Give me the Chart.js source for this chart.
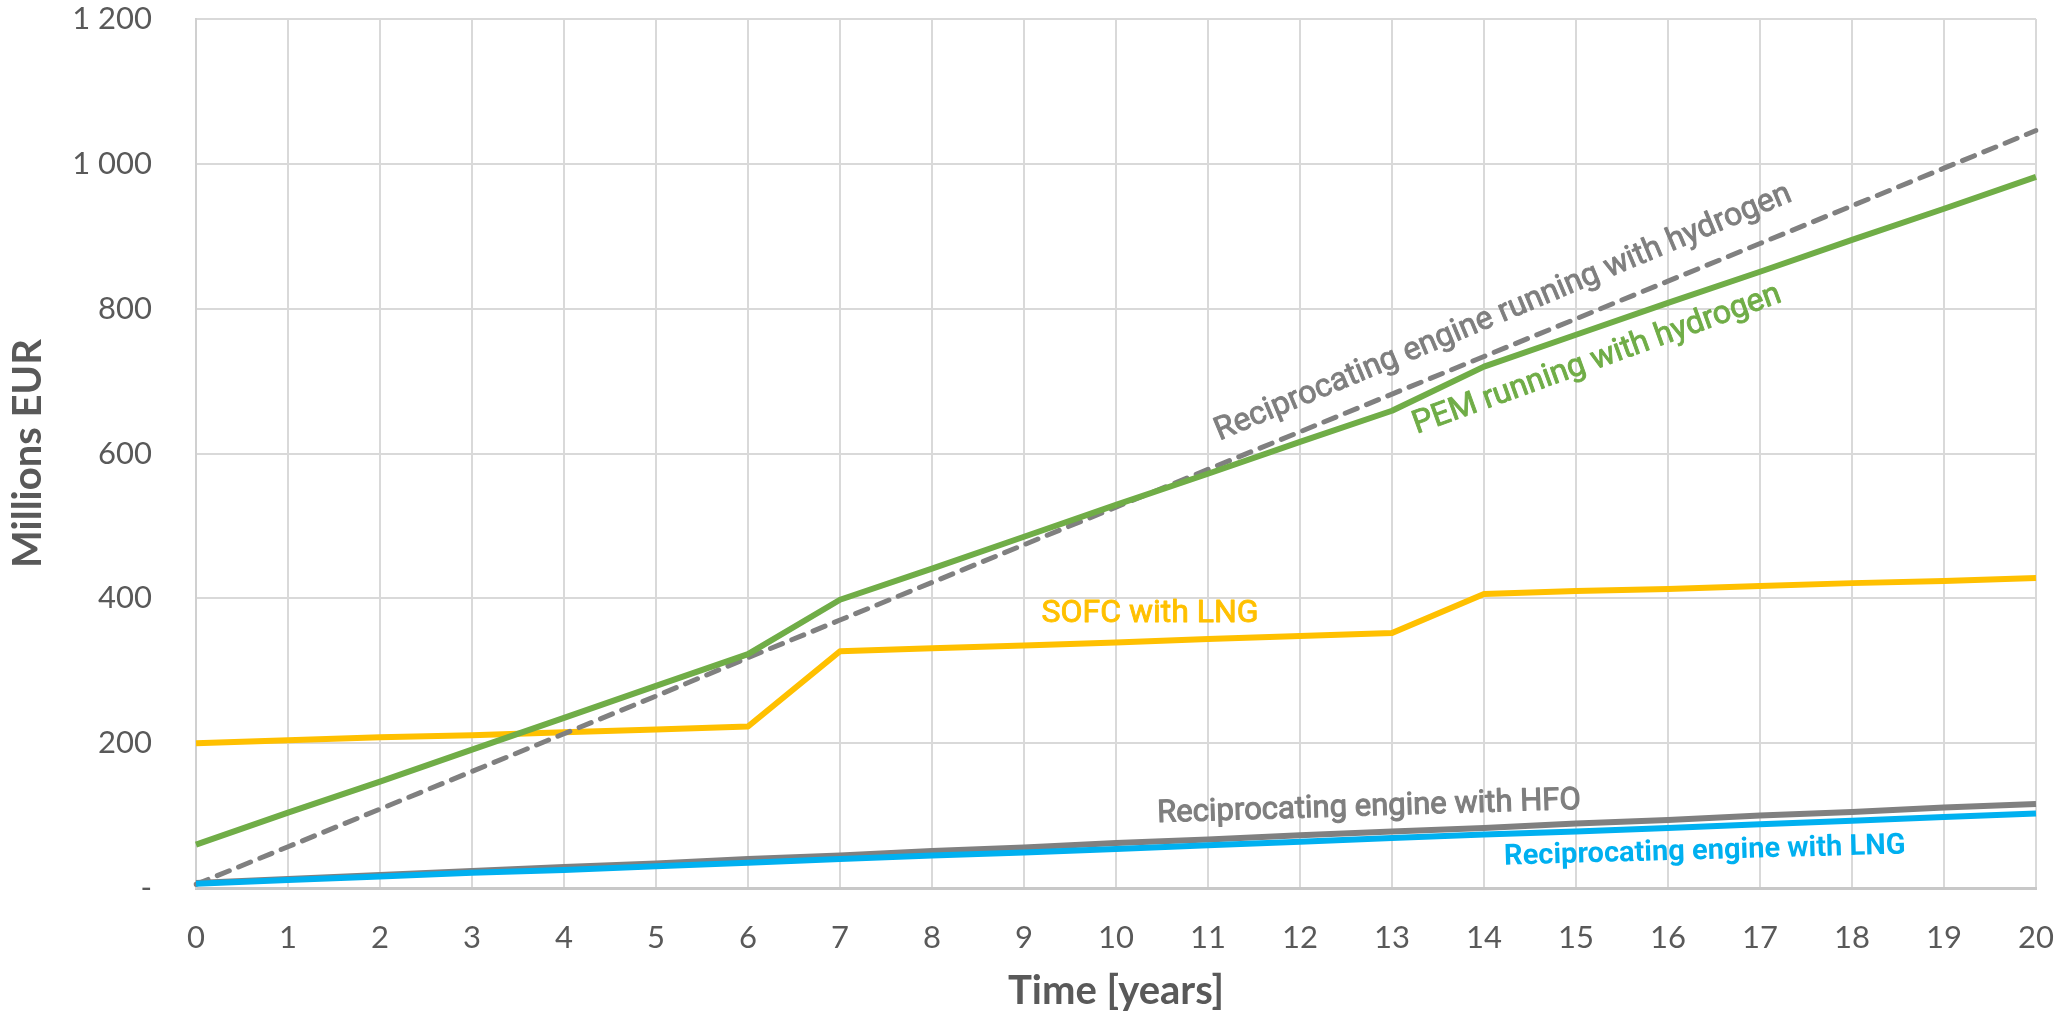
<!DOCTYPE html>
<html>
<head>
<meta charset="utf-8">
<script src="https://cdn.jsdelivr.net/npm/chart.js@4/dist/chart.umd.min.js"></script>
<style>
  html, body { margin: 0; padding: 0; background: #ffffff; }
  #wrap { width: 2064px; height: 1018px; position: relative; }
</style>
</head>
<body>
<div id="wrap"><canvas id="c"></canvas></div>
<script>
// ---- data ----
const years = ['0','1','2','3','4','5','6','7','8','9','10','11','12','13','14','15','16','17','18','19','20'];
const recipHydrogen = [5, 57, 109, 161, 213, 265, 318, 370, 422, 474, 526, 578, 630, 682, 734, 786, 838, 890, 942, 994, 1046];
const pemHydrogen   = [60, 104, 147, 191, 235, 279, 323, 398, 441, 485, 529, 572, 616, 659, 720, 764, 808, 851, 895, 938, 982];
const sofcLng       = [200, 204, 208, 211, 215, 219, 223, 327, 331, 335, 339, 344, 348, 352, 406, 410, 413, 417, 421, 424, 428];
const recipHfo      = [7, 12.5, 18, 23.5, 29, 34, 40, 45, 51, 56, 62, 67, 73, 78, 83, 89, 94, 100, 105, 111, 116];
const recipLng      = [6, 11, 16, 21, 25, 30, 35, 40, 45, 49, 54, 59, 64, 69, 74, 78, 83, 88, 93, 98, 103];

const yTickValues = [0, 200, 400, 600, 800, 1000, 1200];
const yTickLabels = ['-', '200', '400', '600', '800', '1 000', '1 200'];

const seriesNames = [
  'Reciprocating engine with LNG',
  'PEM running with hydrogen',
  'Reciprocating engine running with hydrogen',
  'SOFC with LNG',
  'Reciprocating engine with HFO'
];

// in-chart series labels: text, position (years, M EUR), angle (deg)
const labelTexts  = ['Reciprocating engine running with hydrogen', 'PEM running with hydrogen', 'SOFC with LNG', 'Reciprocating engine with HFO', 'Reciprocating engine with LNG'];
const labelX      = [14.21, 15.23, 10.37, 12.75, 16.40];
const labelY      = [794, 729, 379, 111, 50];
const labelAngle  = [22.7, 19.9, 0, 1.8, 1.6];
const labelColors = ['#7f7f7f', '#70ad47', '#ffc000', '#7f7f7f', '#00b0f0'];
const labelFonts  = ['32px Roboto', '32px Roboto', '32px Roboto', '31px Roboto', 'bold 29px Roboto'];
const labelStroke = [0.9, 0.9, 0.9, 1.1, 0];

const seriesLabelsPlugin = {
  id: 'seriesLabels',
  afterDatasetsDraw(chart) {
    const ctx = chart.ctx;
    const xs = chart.scales.x, ys = chart.scales.y;
    ctx.save();
    ctx.textAlign = 'center';
    ctx.textBaseline = 'middle';
    for (let i = 0; i < labelTexts.length; i++) {
      const px = xs.getPixelForValue(labelX[i]);
      const py = ys.getPixelForValue(labelY[i]);
      ctx.save();
      ctx.translate(px, py);
      ctx.rotate(-labelAngle[i] * Math.PI / 180);
      ctx.font = labelFonts[i];
      ctx.fillStyle = labelColors[i];
      ctx.fillText(labelTexts[i], 0, 0);
      if (labelStroke[i] > 0) {
        ctx.strokeStyle = labelColors[i];
        ctx.lineWidth = labelStroke[i];
        ctx.lineJoin = 'round';
        ctx.strokeText(labelTexts[i], 0, 0);
      }
      ctx.restore();
    }
    ctx.restore();
  }
};

const tickFont = { family: 'Lato', size: 31 };
const tickColor = '#595959';

new Chart(document.getElementById('c'), {
  type: 'line',
  data: {
    labels: years,
    datasets: [
      { label: seriesNames[0], data: recipLng, borderColor: '#00b0f0', borderWidth: 6 },
      { label: seriesNames[1], data: pemHydrogen, borderColor: '#70ad47', borderWidth: 6 },
      { label: seriesNames[2], data: recipHydrogen, borderColor: '#808080', borderWidth: 5, borderDash: [13, 10], borderCapStyle: 'round' },
      { label: seriesNames[3], data: sofcLng, borderColor: '#ffc000', borderWidth: 6 },
      { label: seriesNames[4], data: recipHfo, borderColor: '#808080', borderWidth: 6 }
    ].map(d => Object.assign({ pointRadius: 0, pointHoverRadius: 0, tension: 0, fill: false, borderJoinStyle: 'round' }, d))
  },
  options: {
    responsive: true,
    maintainAspectRatio: false,
    animation: false,
    devicePixelRatio: 1,
    layout: { padding: { top: 19, right: 28, left: 0, bottom: 0 } },
    plugins: { legend: { display: false }, tooltip: { enabled: false } },
    scales: {
      x: {
        type: 'category',
        offset: false,
        grid: { color: '#d9d9d9', lineWidth: 2, drawTicks: false },
        border: { color: '#c8c8c8', width: 3 },
        ticks: { font: tickFont, color: tickColor, padding: 31, maxRotation: 0, autoSkip: false },
        title: { display: true, text: 'Time [years]', font: { family: 'Lato', size: 40, weight: 'bold' }, color: '#595959', padding: { top: 0, bottom: 3 } },
        afterFit(scale) { scale.height = 130; scale.paddingLeft = 0; scale.paddingRight = 0; }
      },
      y: {
        min: 0, max: 1200,
        grid: { color: '#d9d9d9', lineWidth: 2, drawTicks: false },
        border: { color: '#d0d0d0', width: 2 },
        afterBuildTicks(scale) { scale.ticks = yTickValues.map(v => ({ value: v })); },
        ticks: {
          font: tickFont, color: tickColor, padding: 44,
          callback(v) { const i = yTickValues.indexOf(v); return i >= 0 ? yTickLabels[i] : ''; }
        },
        title: { display: true, text: 'Millions EUR', font: { family: 'Lato', size: 40, weight: 'bold' }, color: '#595959', padding: { top: 4, bottom: 0 } },
        afterFit(scale) { scale.width = 196; scale.paddingTop = 0; scale.paddingBottom = 0; }
      }
    }
  },
  plugins: [seriesLabelsPlugin]
});
</script>
</body>
</html>
